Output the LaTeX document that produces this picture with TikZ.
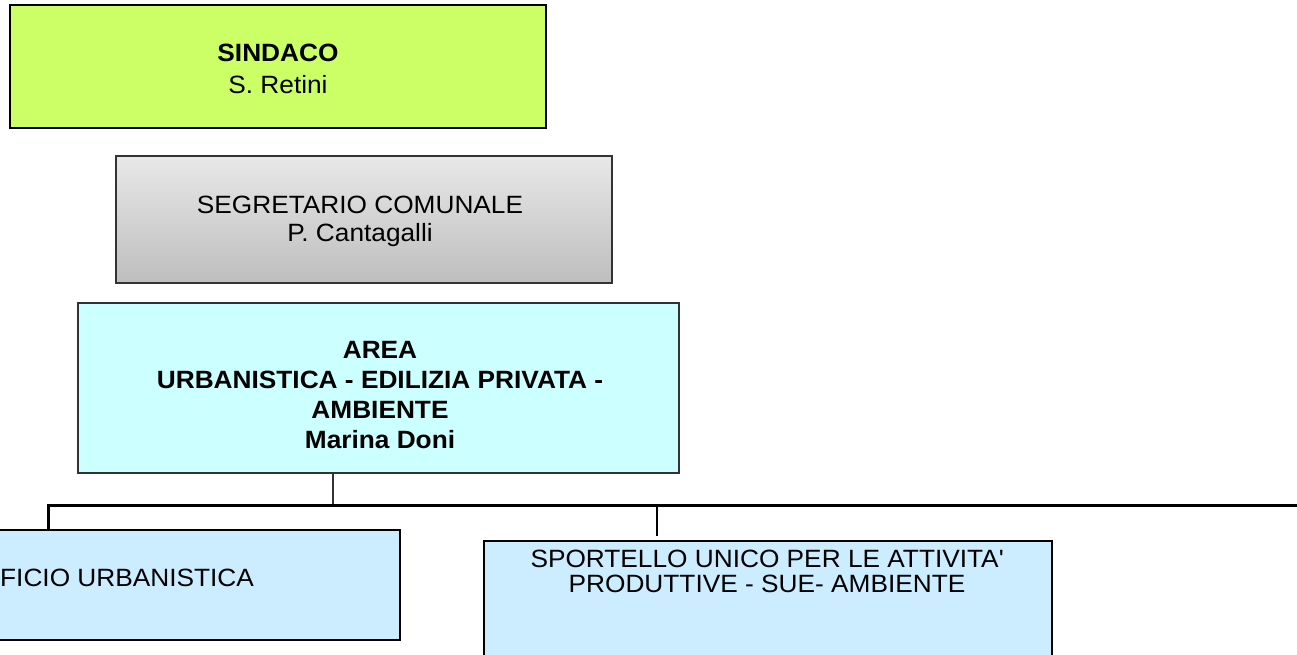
\documentclass[tikz,border=0pt]{standalone}
\usepackage{fontspec}
\setmainfont{Liberation Sans}[FakeStretch=1.05]
\definecolor{mylime}{RGB}{204,255,102}
\definecolor{mycyan}{RGB}{204,255,255}
\definecolor{mysky}{RGB}{204,236,255}
\definecolor{mygreytop}{RGB}{232,232,232}
\definecolor{mygreybot}{RGB}{190,190,190}
\definecolor{myborder}{RGB}{51,51,51}
\usetikzlibrary{positioning}

\begin{document}
\begin{tikzpicture}[x=1pt,y=-1pt,
    every node/.style={inner sep=0pt,align=center},
    box/.style={draw,rectangle},
    sindnode/.style={box,fill=mylime,line width=2.5pt},
    segnode/.style={box,draw=myborder,top color=mygreytop,bottom color=mygreybot,line width=2.5pt},
    areanode/.style={box,draw=myborder,fill=mycyan,line width=2.5pt},
    uffnode/.style={box,fill=mysky,line width=2pt},
    txt/.style={font=\fontsize{25}{#1}\selectfont}
    ]
    \useasboundingbox (0,0) rectangle (1297,655);

    % the boxes
    \node[sindnode,minimum width=536pt,minimum height=123pt] (sindaco) at (278,66.5) {};
    \node[segnode,minimum width=496pt,minimum height=127pt] (segretario) at (364,219.5) {};
    \node[areanode,minimum width=601pt,minimum height=170pt] (area) at (378.5,388) {};
    \node[uffnode,minimum width=403pt,minimum height=110pt] (ufficio) at (198.5,585) {};
    \node[uffnode,minimum width=568pt,minimum height=129pt] (sportello) at (768,605.5) {};

    % the texts
    \node[txt=32] (sindtxt) at (278,68.5) {\textbf{SINDACO}\\S. Retini};
    \node[txt=28] (segtxt) at (360,221.5) {SEGRETARIO COMUNALE\\P. Cantagalli};
    \node[txt=30] (areatxt) at (380,395.5) {\textbf{AREA}\\\textbf{URBANISTICA - EDILIZIA PRIVATA -}\\\textbf{AMBIENTE}\\\textbf{Marina Doni}};
    \node[txt=25,anchor=west] (ufftxt) at (0,578) {FICIO URBANISTICA};
    \node[txt=25] (sportxt) at (767,571.5) {SPORTELLO UNICO PER LE ATTIVITA\textquotesingle\\PRODUTTIVE - SUE- AMBIENTE};

    % the connectors
    \coordinate (busA) at (333,505);
    \coordinate (busL) at (48,505);
    \coordinate (busS) at (657,505);
    \coordinate (busR) at (1300,505);
    \draw[line width=2pt,draw=myborder] (area.south -| busA) -- (busA);
    \draw[line width=3pt] (ufficio.north -| busL) -- (busL) -- (busR);
    \draw[line width=2pt,shorten >=4pt] (busS) -- (sportello.north -| busS);
\end{tikzpicture}
\end{document}
